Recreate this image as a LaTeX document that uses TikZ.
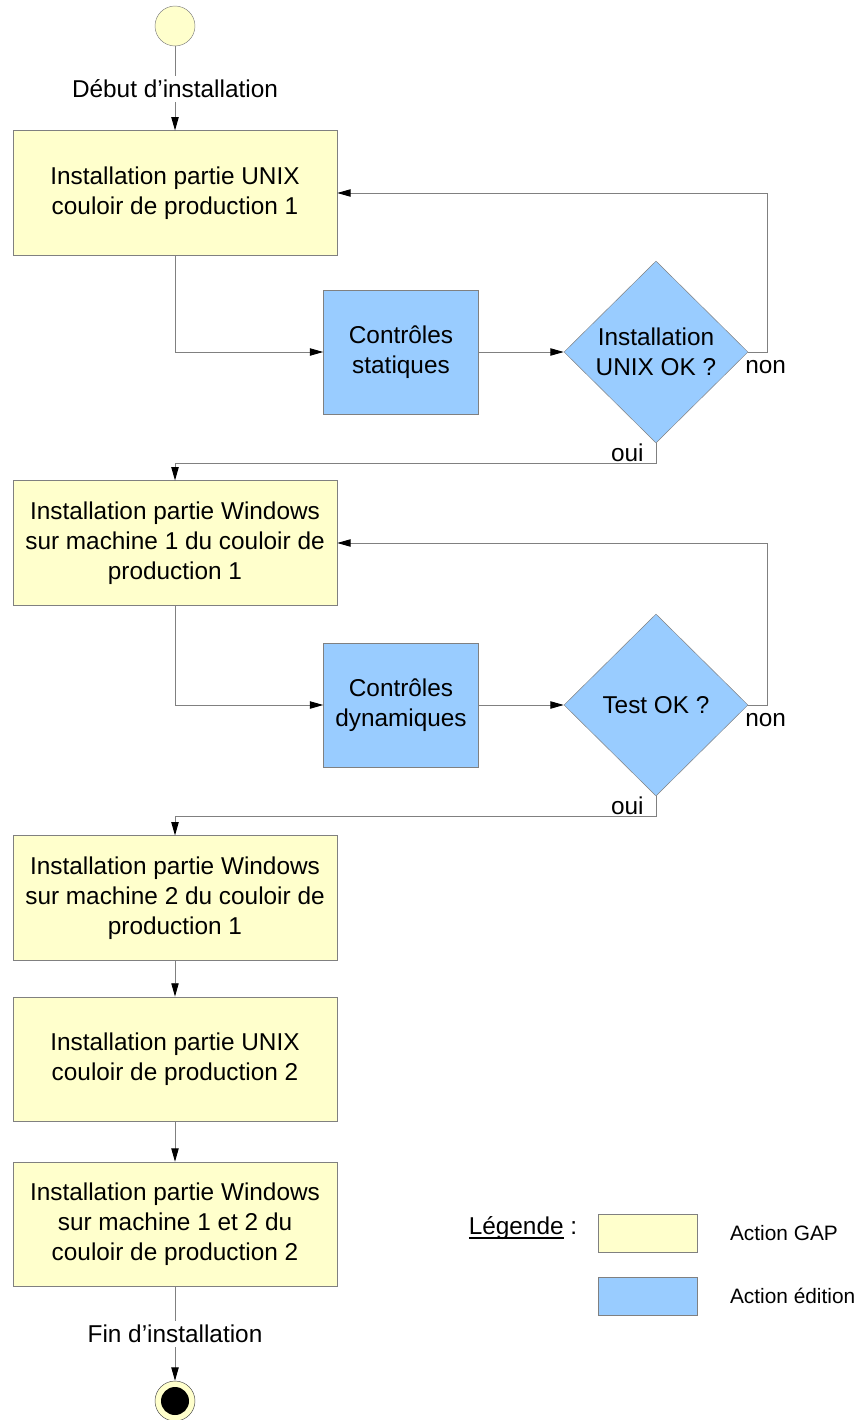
\documentclass[tikz,border=0pt]{standalone}
\usepackage{fontspec}
\setmainfont{Liberation Sans}
\usepackage{tikz}
\usetikzlibrary{shapes.geometric,arrows.meta,positioning}
\definecolor{gapyellow}{RGB}{255,255,204}
\definecolor{editblue}{RGB}{153,204,255}
\definecolor{linegray}{RGB}{128,128,128}
\newcommand{\lowline}[1]{{\setbox0\hbox{#1}\rlap{\rule[-0.17em]{\wd0}{0.05em}}\box0}}

\begin{document}
\begin{tikzpicture}[x=0.03cm, y=-0.03cm, font=\fontsize{20.8}{25.6}\selectfont]
    % Define styles
    \tikzstyle{gapblock} = [rectangle, draw=linegray, fill=gapyellow, align=center, minimum width=9.72cm, minimum height=3.74cm, inner sep=0]
    \tikzstyle{editblock} = [rectangle, draw=linegray, fill=editblue, align=center, minimum width=4.65cm, minimum height=3.72cm, inner sep=0]
    \tikzstyle{decision} = [diamond, draw=linegray, fill=editblue, align=center, minimum width=5.52cm, minimum height=5.46cm, inner sep=0]
    \tikzstyle{line} = [draw=linegray, line width=0.8pt, -{Triangle[length=0.4cm, width=0.22cm, color=black]}]
    \tikzstyle{plain} = [draw=linegray, line width=0.8pt]
    \tikzstyle{answer} = [inner sep=0]
    \tikzstyle{legtext} = [font=\fontsize{17.8}{21}\selectfont, anchor=west]

    \useasboundingbox (0,0) rectangle (858,1420);

    % Nodes
    \node [circle, draw=linegray, fill=gapyellow, minimum size=1.2cm, inner sep=0] (start) at (175,26) {};
    \node (debut) at (175,89) {Début d’installation};
    \node [gapblock] (unix1) at (175,193) {Installation partie UNIX\\couloir de production 1};
    \node [editblock] (statiq) at (401,352) {Contrôles\\statiques};
    \node [decision] (testunix) at (656,352) {Installation\\UNIX OK ?};
    \node [gapblock] (win1) at (175,543) {Installation partie Windows\\sur machine 1 du couloir de\\production 1};
    \node [editblock] (dynam) at (401,705) {Contrôles\\dynamiques};
    \node [decision] (testwin) at (656,705) {Test OK ?};
    \node [gapblock] (win2) at (175,898) {Installation partie Windows\\sur machine 2 du couloir de\\production 1};
    \node [gapblock, below=1.08cm of win2] (unix2) {Installation partie UNIX\\couloir de production 2};
    \node [gapblock, below=1.2cm of unix2] (win3) {Installation partie Windows\\sur machine 1 et 2 du\\couloir de production 2};
    \node (fin) at (175,1334) {Fin d’installation};
    \node [circle, draw=black!70, fill=gapyellow, minimum size=1.2cm, inner sep=0] (finish) at (175,1401) {};
    \node [circle, fill=black, minimum size=0.84cm, inner sep=0] at (finish) {};

    % Legend
    \node (legende) at (523,1228) {\lowline{Légende} :};
    \node [rectangle, draw=linegray, fill=gapyellow, minimum width=2.97cm, minimum height=1.14cm] (leggap) at (647.5,1233) {};
    \node [rectangle, draw=linegray, fill=editblue, minimum width=2.97cm, minimum height=1.14cm] (legedit) at (647.5,1296) {};
    \node [legtext, right=0.86cm of leggap] {Action GAP};
    \node [legtext, right=0.86cm of legedit] {Action édition};

    % Connections
    \path [plain] (start) -- (debut);
    \path [line] (debut) -- (unix1);
    \path [line] (unix1.south) |- (statiq.west);
    \path [line] (statiq) -- (testunix);
    \path [line] (testunix.east) node [answer, anchor=north west, yshift=-0.24cm, xshift=-0.1cm] {non} -- ++(19,0) |- (unix1.east);
    \path [line] (testunix.south) node [answer, anchor=north east, xshift=-0.36cm] {oui} -- ++(0,20) -| (win1.north);
    \path [line] (win1.south) |- (dynam.west);
    \path [line] (dynam) -- (testwin);
    \path [line] (testwin.east) node [answer, anchor=north west, yshift=-0.24cm, xshift=-0.1cm] {non} -- ++(19,0) |- (win1.east);
    \path [line] (testwin.south) node [answer, anchor=north east, xshift=-0.36cm] {oui} -- ++(0,20) -| (win2.north);
    \path [line] (win2) -- (unix2);
    \path [line] (unix2) -- (win3);
    \path [plain] (win3) -- (fin);
    \path [line] (fin) -- (finish);
\end{tikzpicture}
\end{document}
